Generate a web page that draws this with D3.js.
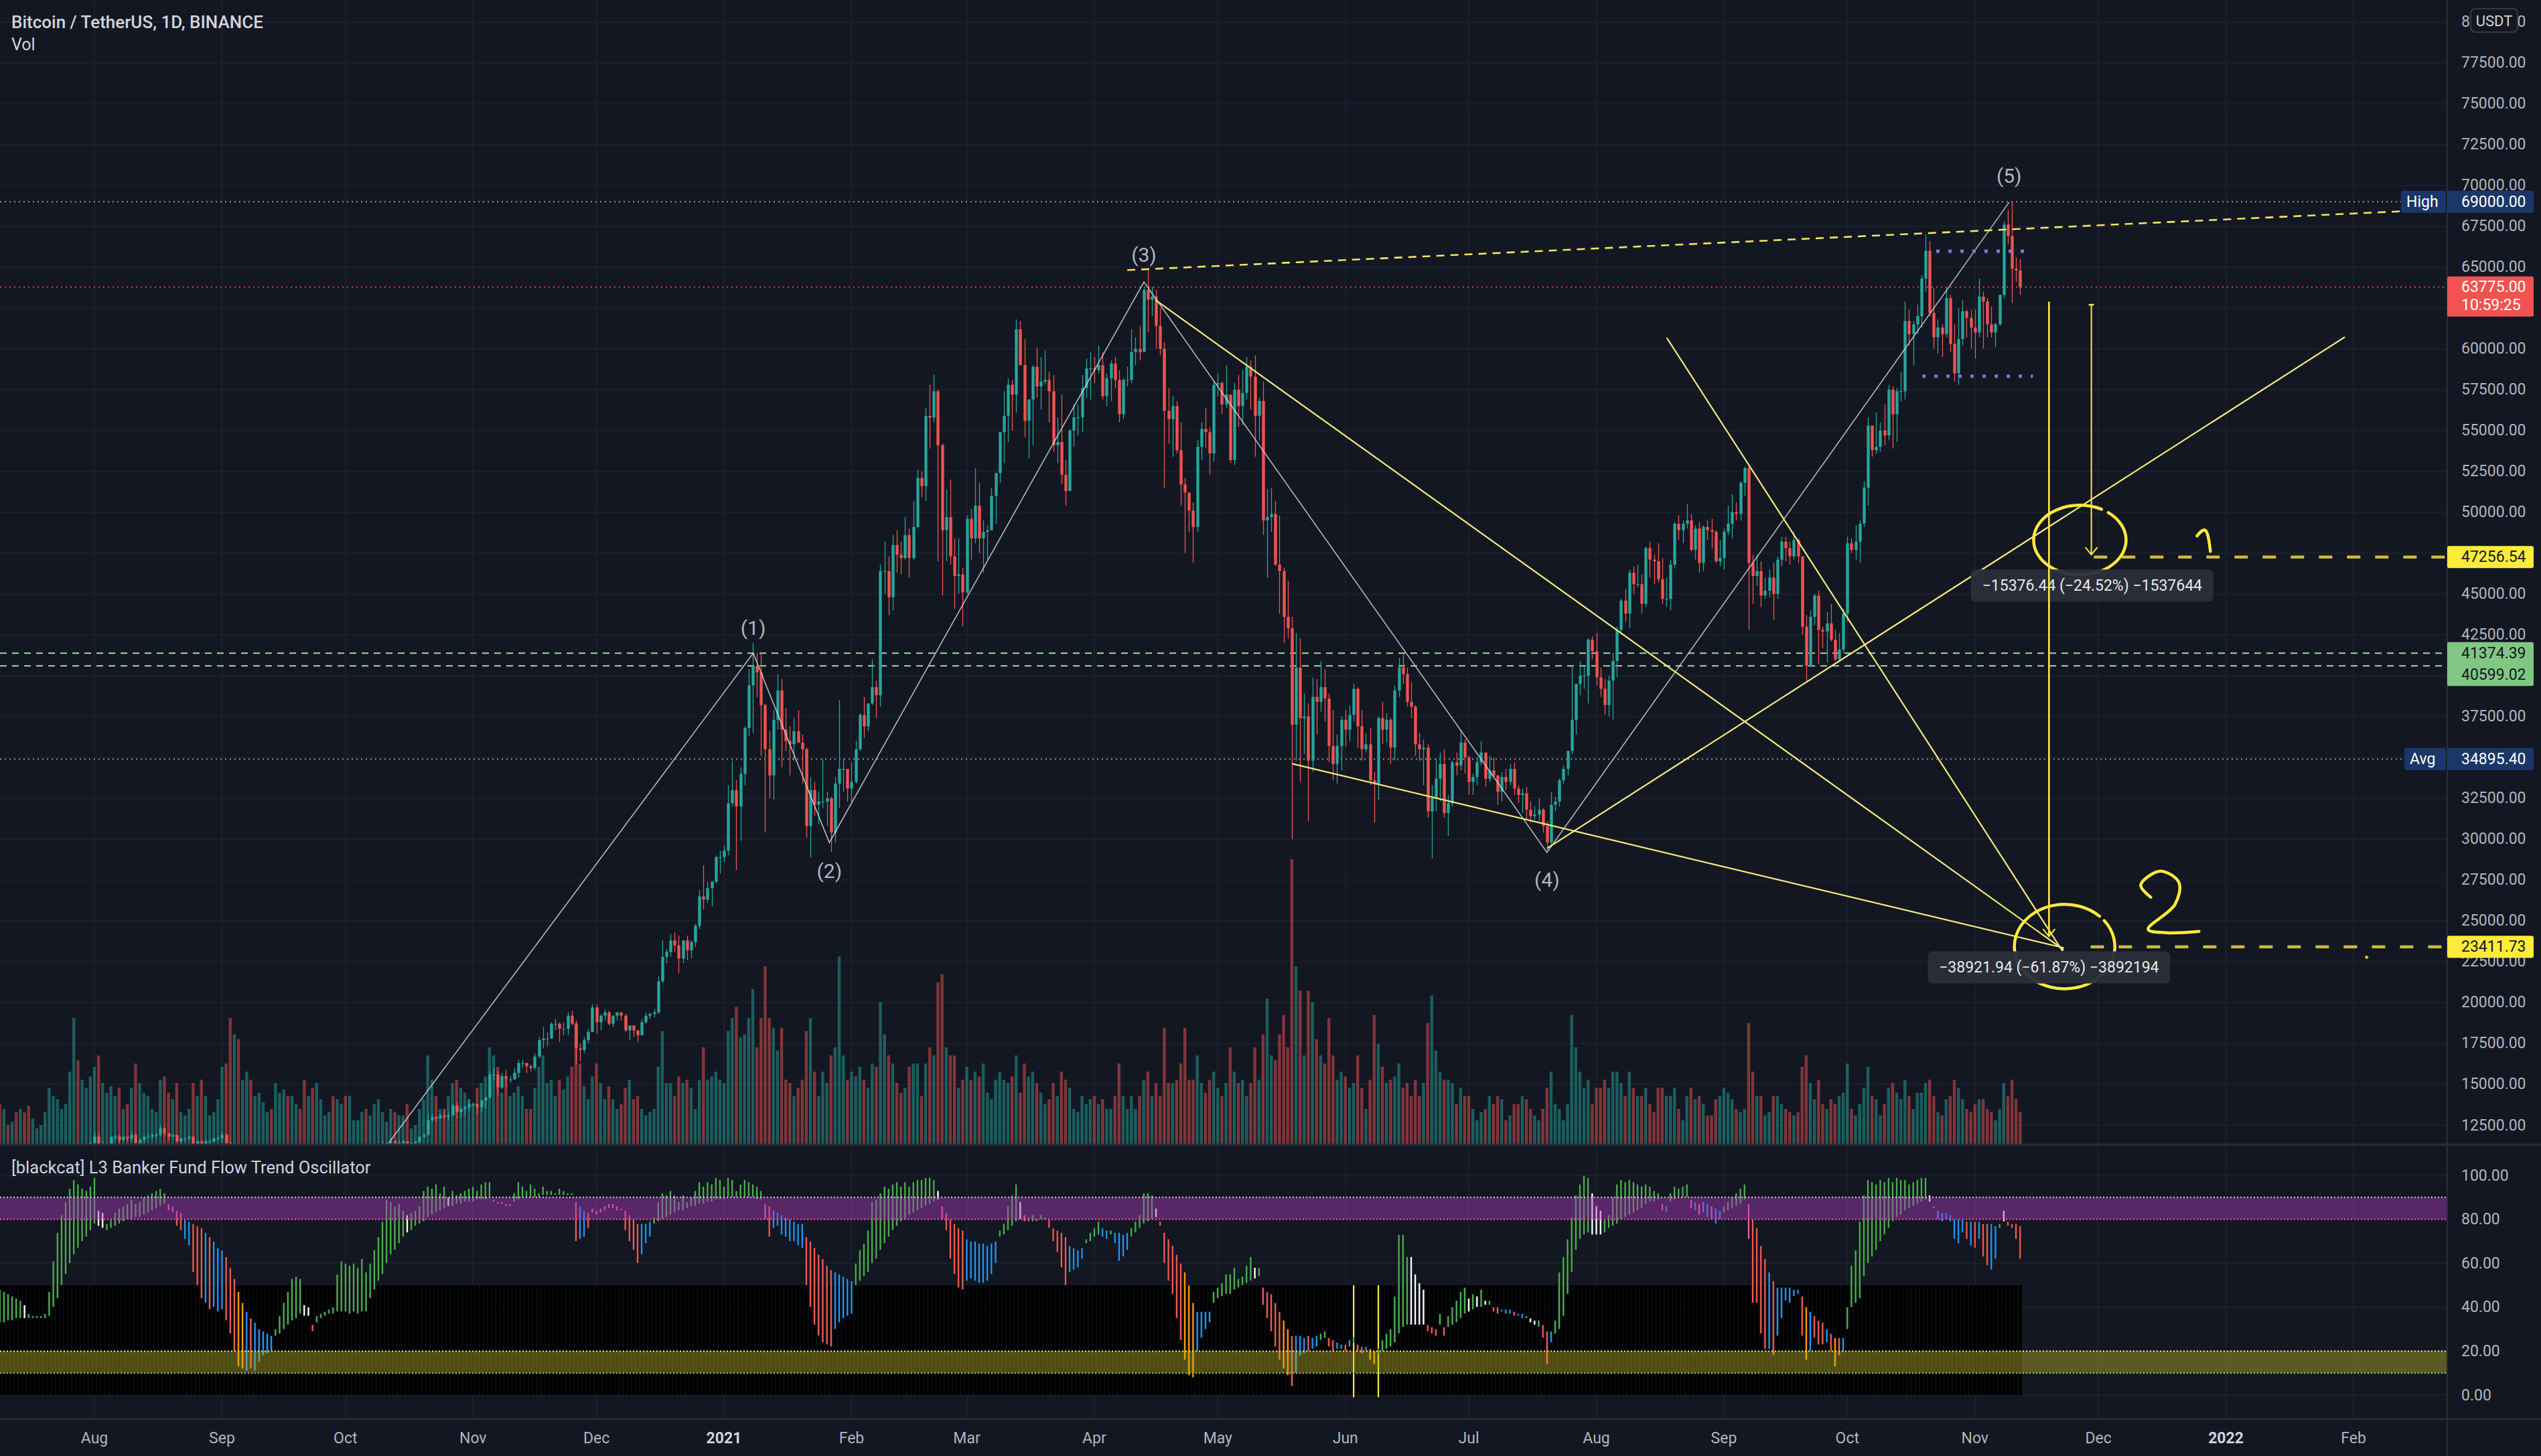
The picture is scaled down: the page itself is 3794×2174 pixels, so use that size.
<!DOCTYPE html>
<html><head><meta charset="utf-8">
<script src="https://d3js.org/d3.v7.min.js"></script>
<style>html,body{margin:0;padding:0;background:#131722;overflow:hidden}svg{display:block;font-family:Roboto,'Noto Sans',sans-serif}</style>
</head><body><svg id="c" width="3794" height="2174"></svg>
<script>
// ---------------- DATA (prices in hundreds of USDT) ----------------
const firstDay = "2020-07-09";
const prevClose = 94;
const closes = [
92,93,92,93,92,93,92,91,92,92,92,92,94,95,96,96,97,99,110,109,111,111,114,
118,111,112,112,118,118,116,118,117,119,114,116,118,118,119,119,123,120,118,119,115,117,117,118,113,115,113,115,115,117,117,
119,114,102,105,102,103,104,101,102,103,104,104,103,107,108,110,109,109,111,109,104,105,102,107,107,107,108,107,108,108,
106,106,106,107,108,106,107,109,111,113,114,115,114,114,115,113,114,115,118,119,128,130,129,131,130,131,137,133,135,136,138,
138,136,140,142,156,156,148,155,153,153,157,163,163,161,160,167,177,178,178,187,187,184,184,192,187,172,171,177,182,197,
188,192,194,187,192,194,192,183,186,183,180,188,192,193,194,213,228,231,238,235,227,238,232,237,247,265,263,270,274,289,289,
293,322,330,320,340,368,394,406,402,382,355,339,373,391,367,360,358,366,359,355,308,330,321,323,323,325,304,334,343,343,331,
335,355,376,369,383,393,388,464,464,448,480,474,472,486,472,491,521,516,559,558,574,541,489,497,473,461,462,451,
496,484,504,484,488,489,510,524,549,559,578,572,612,590,556,569,589,577,580,581,574,541,543,523,513,550,558,558,576,588,588,
587,590,571,582,591,581,560,581,581,598,600,598,636,630,632,614,600,562,557,565,538,517,512,501,491,540,551,549,536,578,
579,566,572,532,575,565,573,589,583,559,568,495,497,499,468,464,436,429,370,405,374,375,348,387,384,393,386,357,346,357,373,
367,376,392,369,355,358,336,334,374,367,373,356,391,405,401,384,381,358,355,356,317,325,337,346,316,322,347,345,359,350,
335,338,347,353,337,342,339,329,338,335,343,331,327,328,318,314,315,318,308,298,321,323,336,343,354,373,395,400,400,422,415,
399,392,382,397,409,428,446,438,463,456,456,444,478,471,470,459,447,447,468,493,489,493,495,477,490,469,491,489,488,470,472,
488,493,500,499,518,527,469,461,464,449,452,460,450,471,482,478,473,483,473,430,406,436,449,428,427,432,422,410,416,438,
481,477,482,493,515,553,538,540,550,547,575,560,574,574,617,609,615,620,643,660,622,607,613,609,631,603,585,606,623,619,613,
610,632,629,615,610,615,633,676,669,649,648,637.75];
const highs = [
95,93,93,93,94,93,93,92,92,92,92,92,94,95,97,97,97,101,114,113,113,112,115,
121,120,115,114,118,119,119,118,118,121,120,117,118,120,120,120,125,124,120,119,119,117,117,118,118,116,116,116,116,117,118,
121,120,115,106,106,104,104,105,104,105,104,105,106,108,109,111,110,110,112,111,110,106,105,108,108,108,108,110,109,109,
109,107,106,107,108,108,107,110,111,115,114,117,116,116,116,115,114,115,118,120,132,132,130,132,134,133,138,139,136,137,141,
139,138,141,142,158,160,158,157,159,155,160,165,165,163,162,169,179,185,182,188,190,188,188,194,195,189,175,179,184,199,
199,193,196,195,192,194,194,193,186,186,183,190,194,194,196,216,238,233,242,243,241,238,241,238,248,269,284,274,274,290,293,
296,333,348,336,344,369,404,420,414,414,383,366,379,401,398,380,369,374,379,364,356,338,335,329,349,329,326,338,385,349,343,
347,360,377,387,383,410,397,468,482,473,486,489,482,497,490,507,526,525,564,578,584,575,542,514,520,484,484,466,
498,502,527,518,495,492,515,524,549,574,582,581,618,617,606,569,590,601,595,599,586,584,558,572,532,551,566,566,584,594,598,
595,602,598,585,593,595,587,582,589,612,607,614,638,649,638,636,625,604,576,571,568,555,521,512,506,544,555,564,552,580,
585,580,590,572,579,584,587,595,593,596,570,580,514,515,507,498,466,458,436,426,423,389,383,399,398,409,404,389,379,364,375,
379,382,395,393,379,365,368,341,375,384,377,374,394,411,413,405,396,382,365,361,358,333,349,353,355,327,348,353,367,361,
351,340,350,360,353,351,350,339,341,343,346,347,333,331,332,323,320,325,319,311,329,326,337,345,354,406,395,409,406,423,424,
426,405,398,400,414,430,447,453,465,467,468,462,479,482,474,481,472,460,471,494,498,495,505,499,492,494,492,495,496,489,483,
490,504,511,506,519,528,529,474,474,470,460,465,469,473,485,485,482,488,484,473,437,440,450,452,430,439,444,428,426,441,
485,484,492,495,519,558,553,561,555,566,578,577,576,586,629,624,617,627,645,670,666,637,618,615,637,633,615,625,630,624,624,
624,643,635,631,626,616,633,678,685,690,656,655];
const lows = [
92,91,92,92,92,91,92,90,91,91,91,91,92,93,95,95,95,97,99,106,109,108,110,
112,107,110,110,111,116,113,115,115,115,111,112,114,117,117,117,118,118,116,117,115,114,115,116,111,113,112,113,114,115,116,
115,112,100,99,98,100,99,99,100,102,102,103,102,103,106,107,108,108,109,108,104,104,101,102,106,106,106,106,107,107,
104,104,105,105,106,105,106,105,108,111,113,112,112,113,113,112,113,113,114,117,119,127,127,129,129,128,131,129,130,131,134,
136,132,133,135,141,152,143,147,148,151,153,154,160,157,158,159,166,172,173,178,183,176,180,180,186,162,164,169,175,182,
181,183,189,186,185,189,189,182,177,179,176,180,187,190,191,193,212,224,228,231,218,224,226,227,234,245,257,261,259,273,279,
286,290,320,281,299,333,363,365,387,351,304,325,324,367,344,354,339,348,359,334,301,289,314,309,319,308,292,298,319,329,323,
323,334,354,362,366,382,374,381,450,437,440,463,462,471,460,471,490,509,507,539,555,470,449,470,468,441,450,430,
450,471,481,475,463,471,489,493,518,530,543,550,561,590,546,533,541,570,563,578,555,537,530,517,504,513,540,547,549,570,569,
579,585,569,565,568,576,555,557,577,579,590,593,598,610,620,600,596,515,542,534,536,504,475,488,469,488,532,539,523,531,
571,560,564,530,529,552,553,569,563,534,544,486,460,488,467,438,420,423,300,348,335,352,311,341,364,378,372,347,336,334,342,
357,360,372,356,348,353,333,310,324,358,359,346,348,387,395,381,374,351,348,333,313,288,317,323,313,302,320,339,342,340,
327,327,333,345,332,335,338,321,323,330,333,327,322,316,312,310,312,311,304,293,295,317,320,334,339,352,364,388,392,383,410,
394,387,376,375,373,399,425,433,429,450,454,438,442,460,456,457,444,442,440,466,483,481,490,476,471,463,464,483,478,469,467,
465,486,484,495,495,510,428,444,455,442,447,448,434,447,467,470,468,471,469,425,396,406,431,407,417,408,421,409,408,414,
433,475,471,469,491,504,534,536,537,541,544,539,543,568,569,602,590,609,613,635,620,600,597,595,607,598,580,578,602,607,600,
594,607,600,607,607,601,614,631,664,628,641,633];
const volumes = [
25,22,12,14,20,22,20,24,16,10,12,20,35,30,28,22,25,45,78,52,40,35,42,
48,55,38,32,36,30,35,22,25,35,50,38,32,30,22,20,40,42,32,28,38,20,18,22,38,30,40,30,18,20,28,
48,50,78,68,65,40,45,40,30,32,26,20,22,38,32,34,30,30,25,22,40,30,35,38,28,18,20,30,28,25,
30,30,15,15,20,22,18,25,28,20,14,22,20,18,18,25,10,12,22,28,55,40,30,22,22,30,38,40,35,32,28,
25,35,38,42,60,55,48,32,40,30,32,36,30,22,22,35,48,55,38,40,30,40,34,42,48,75,50,36,28,42,
50,38,28,36,28,22,25,35,40,28,30,22,18,20,22,48,70,38,38,30,42,38,40,35,22,40,60,40,42,45,40,
38,70,78,85,66,68,78,96,60,78,110,78,72,58,72,40,38,30,35,40,70,78,45,30,45,38,55,60,116,55,40,
45,42,48,40,35,50,48,88,68,55,50,38,32,35,48,50,50,30,50,60,55,100,105,60,55,55,35,40,
48,40,45,42,50,32,28,40,45,40,38,42,55,32,50,42,45,38,32,25,28,38,30,45,40,35,22,20,30,25,28,
30,25,28,22,22,30,50,30,22,30,22,30,40,45,30,38,30,72,38,38,40,50,72,40,40,55,38,32,40,45,
35,30,38,60,45,38,40,30,38,60,40,68,90,55,52,68,80,60,176,110,95,55,95,88,65,55,50,78,55,40,45,
42,35,38,55,35,22,40,80,62,48,38,40,42,50,35,38,30,40,30,38,75,92,58,45,40,40,38,25,35,30,
30,22,15,20,22,30,25,30,28,15,18,25,25,30,28,22,18,15,22,35,45,25,22,15,25,80,60,45,35,40,25,
35,35,40,35,45,45,38,30,45,35,30,30,35,25,20,35,35,30,30,35,22,15,30,35,28,30,25,18,18,28,30,
35,32,28,22,20,22,75,45,30,30,18,20,30,30,25,22,20,18,20,48,55,38,28,40,25,22,28,25,30,32,
50,22,18,25,35,48,30,28,18,25,35,38,32,28,40,30,22,32,32,38,40,30,20,18,28,30,40,35,28,22,20,
25,28,28,22,20,15,22,38,30,40,28,20];
const oscHigh = [
48,47,46,45,44,43,41,37,36,36, 36,37,47,61,74,82,88,94,98,96, 94,93,95,99,84,83,78,80,83,85, 86,87,89,87,88,90,91,92,93,94,
92,87,86,84,83,80,79,78,77,76, 74,72,70,67,66,63,58,53,47,42, 38,35,33,30,29,28,27,30,36,42, 47,53,54,53,41,40,32,36,37,38,
39,40,55,61,60,59,60,58,62,56, 60,66,72,79,89,88,86,87,84,82, 83,84,86,93,95,94,96,92,95,90, 93,91,92,93,94,95,93,96,97,97,
89,88,88,87,87,92,97,95,93,96, 94,92,95,93,93,92,94,93,92,92, 88,86,84,83,85,84,85,86,87,87, 86,85,84,82,80,78,78,78,79,81,
88,92,91,93,91,88,91,88,90,93, 97,95,97,96,99,98,95,99,98,93, 96,98,97,96,95,93,87,86,84,83, 82,81,80,79,78,78,72,70,67,64,
62,59,57,56,55,54,53,52,60,66, 69,75,88,89,92,95,94,96,97,95, 97,95,97,98,98,99,99,98,93,86, 83,80,78,76,75,71,70,70,69,69,
68,69,70,75,78,86,91,96,88,82, 81,82,80,82,81,80,76,75,74,72, 68,67,66,67,71,74,76,79,76,75, 75,74,74,73,74,76,79,82,92,92,
91,85,79,74,71,68,64,60,56,50, 42,38,38,38,38,47,49,51,55,55, 58,53,54,59,63,58,58,49,47,46, 42,38,34,30,27,27,27,26,27,26,
27,28,29,26,25,24,23,23,25,26, 23,22,22,21,20,21,25,28,30,45, 73,73,63,63,55,51,48,32,31,30, 37,31,36,40,43,47,49,44,46,45,
48,43,43,40,40,39,39,39,38,37, 37,36,35,34,34,32,29,29,34,56, 63,71,81,91,96,100,99,92,86,84, 80,82,90,96,98,97,98,97,96,95,
96,95,93,92,87,86,92,95,94,95, 96,89,88,87,88,87,86,85,84,86, 88,90,92,94,96,87,80,76,68,62, 56,52,49,49,49,49,48,48,45,40,
38,36,34,33,30,28,26,26,26,40, 59,66,79,91,98,97,96,98,97,99, 97,99,98,98,96,97,98,99,99,91, 86,84,83,83,82,80,80,80,79,79,
79,79,78,78,78,77,78,84,79,78, 78,77];
const oscLow = [
33,33,34,34,35,35,35,35,35,35, 35,35,36,40,44,50,55,60,64,67, 70,72,75,78,77,76,75,76,77,78, 79,80,80,81,81,82,83,84,85,86,
87,84,83,77,75,71,68,56,50,44, 42,39,40,38,39,34,28,20,13,12, 11,12,11,15,18,19,20,27,28,30, 32,34,35,37,36,36,29,33,35,36,
37,37,38,38,38,37,38,37,38,38, 44,48,52,55,60,64,66,69,72,74, 75,77,78,79,81,82,83,84,85,86, 86,87,87,88,88,88,89,89,89,90,
88,87,87,86,86,88,89,90,90,90, 90,90,91,91,91,91,91,91,91,91, 70,71,72,76,83,82,83,84,85,85, 84,84,75,70,66,60,64,69,72,78,
79,80,81,82,83,84,84,85,86,86, 87,87,88,88,89,89,89,90,90,90, 90,90,90,90,89,89,80,72,76,77, 73,72,70,70,68,67,50,40,32,27,
24,23,22,30,33,35,36,37,50,52, 54,56,60,62,66,69,72,75,77,79, 80,82,83,84,85,86,87,88,89,80, 75,62,55,49,48,52,53,52,51,51,
52,55,60,72,73,75,77,79,80,79, 79,79,79,80,80,76,70,65,58,50, 56,57,58,62,69,70,72,73,72,71, 73,69,61,63,66,72,74,76,78,79,
80,81,77,60,52,46,35,25,16,9, 8,20,26,30,33,42,44,45,46,46, 48,49,50,51,52,53,54,41,35,29, 22,16,12,9,4,10,18,19,20,21,
22,25,26,22,20,21,21,20,22,24, 20,19,20,16,14,19,20,21,22,24, 28,31,32,32,32,32,32,29,28,27, 32,27,31,32,33,35,37,38,39,40,
40,41,41,38,37,38,37,37,36,36, 35,35,33,32,31,26,14,24,28,30, 36,46,56,66,71,73,74,73,73,73, 74,76,77,78,80,81,82,83,84,85,
87,88,88,89,84,83,88,89,90,90, 90,85,84,82,83,81,80,78,80,83, 84,85,86,87,89,71,42,42,28,21, 21,18,27,35,43,42,45,46,27,16,
20,26,23,23,24,20,13,18,20,30, 40,42,44,54,60,63,66,70,73,76, 79,81,82,84,85,86,87,88,89,88, 85,80,79,80,79,71,69,74,71,68,
67,71,63,59,57,62,76,79,77,76, 71,62];
const oscColors =
"ggggggwggg"+"gggggggggg"+"ggggwwgggg"+"gggggggggg"+"gpprrbbrrr"+"brbbbrrroo"+"brbbbbbggg"+"ggggwwrggg"+
"gggggggggg"+"gggggggggw"+"gggggggggw"+"gggggggggg"+"pppppggggg"+"gggggggggg"+"rbbrpppppp"+"pprrrrbbbg"+
"gggggggggg"+"gggggggggg"+"ggggggprbb"+"bbbbbbrrrr"+"rrrbbbbbgg"+"gggggggggg"+"ggggggggwp"+"rrrrrbbbbb"+
"bbbgggggwp"+"pggggrrrrr"+"bbbbggggbb"+"gbbbbggggg"+"gwrrrrrroo"+"obbbbggggg"+"gggggwgrrr"+"rroorbbbrb"+
"bggrrbbrbg"+"rrbooggggg"+"gggwwwwrrr"+"grgggggwgw"+"gwgrrbbbrb"+"bgwwgrrbgg"+"gggggggwww"+"gggggggggg"+
"ggggpbgggg"+"gpbpbbpbbg"+"gggggprrrr"+"brbbbbbbro"+"brrrbrorbg"+"gggggggggg"+"gggggggggw"+"pbbbbbbbrb"+
"rbrrbbgwrr"+"rr";
const signalDays = ["2021-06-03","2021-06-09"];
const priceTicks = d3.range(12500, 80001, 2500);
const oscTicks = [0,20,40,60,80,100];
const oscBands = [[80,90],[10,20]];
const oscMid = 50;
// Elliott wave pivots: [day index from first bar, price]
const wavePts = [[94.5,11400],[183.1,41380],[201.6,29790],[278.05,64090],[376.0,29190],[488.3,68960]];
const waveLabels = ["(1)","(2)","(3)","(4)","(5)"];
const trendLines = [
  [[280.9,62977],[501.6,23225]],
  [[314.1,34611],[501.6,23348]],
  [[405.1,60680],[501.3,23143]],
  [[376.1,29450],[569.9,60720]]
];
const topDashed = [[274.0,64815],[600,68603]];
const arrowLong = [[498.0,62880],[498.0,24050]];
const arrowShort = [[508.3,62695],[508.3,47410]];
const targets = [{day:508.9, price:47256.54}, {day:508.1, price:23411.73}];
const rangeDots = [{from:470.6,to:492.3,price:65973},{from:467.2,to:494.1,price:58322}];
const measureBoxes = [
  {day:508.5, price:45520, text:"\u221215376.44 (\u221224.52%) \u22121537644"},
  {day:498.0, price:22150, text:"\u221238921.94 (\u221261.87%) \u22123892194"}];
const circles = [{day:505.5, price:48300}, {day:501.8, price:23426}];
const handDigits = [{day:535.6, price:48430, d:"1"}, {day:527.3, price:26200, d:"2"}];
const zoneLines = [41374.39, 40599.02];
const avgPrice = 34895.40, highPrice = 69000, lastPrice = 63775, countdown = "10:59:25";

// ---------------- LAYOUT ----------------
const W = 3794, H = 2174, PR = 3654, PB = 1709, OB = 2119;
const BG = "#131722", GRID = "#1f2330", SEP = "#2a2e39", TXT = "#b2b5be";
const t0 = new Date(firstDay + "T00:00:00Z");
const dayMs = 864e5;
const x = d3.scaleUtc().domain([new Date(Date.UTC(2020,7,1)), new Date(Date.UTC(2022,1,1))]).range([141,3514]);
const y = d3.scaleLinear().domain([12500,77500]).range([1680,93.75]);
const yo = d3.scaleLinear().domain([0,100]).range([2083,1755]);
const yv = d3.scaleLinear().domain([0,176]).range([PB,1283]);
const xi = i => x(new Date(t0.getTime() + i*dayMs));
const P = ([i,p]) => [xi(i), y(p)];

const svg = d3.select("#c");
svg.append("rect").attr("width",W).attr("height",H).attr("fill",BG);
const defs = svg.append("defs");
defs.append("clipPath").attr("id","cp").append("rect").attr("x",0).attr("y",0).attr("width",PR).attr("height",PB);
defs.append("clipPath").attr("id","co").append("rect").attr("x",0).attr("y",PB).attr("width",PR).attr("height",OB-PB);

// grid
const months = d3.utcMonth.range(new Date(Date.UTC(2020,7,1)), new Date(Date.UTC(2022,2,1))).filter(d=>x(d)<PR);
const grid = svg.append("g").attr("stroke",GRID).attr("stroke-width",1.5);
grid.selectAll(".v").data(months).join("line").attr("x1",d=>Math.round(x(d))).attr("x2",d=>Math.round(x(d))).attr("y1",0).attr("y2",OB);
grid.selectAll(".h").data(priceTicks.filter(v=>y(v)>0&&y(v)<PB)).join("line").attr("x1",0).attr("x2",PR).attr("y1",d=>Math.round(y(d))).attr("y2",d=>Math.round(y(d)));
grid.selectAll(".o").data(oscTicks).join("line").attr("x1",0).attr("x2",PR).attr("y1",d=>Math.round(yo(d))).attr("y2",d=>Math.round(yo(d)));

// bars
const bars = closes.map((c,i)=>{
  const o = (i ? closes[i-1] : prevClose)*100, cc = c*100;
  return {i, o, c:cc, h:Math.max(highs[i]*100,o,cc), l:Math.min(lows[i]*100,o,cc), v:volumes[i]};
});
const UP="#26a69a", DN="#ef5350";
const pg = svg.append("g").attr("clip-path","url(#cp)");
const bw = 4.4;
pg.append("g").selectAll("rect").data(bars).join("rect")
  .attr("x",d=>xi(d.i)-bw/2).attr("width",bw).attr("y",d=>yv(d.v)).attr("height",d=>PB-yv(d.v))
  .attr("fill",d=>d.c>=d.o?UP:DN).attr("opacity",0.5);

// horizontal reference lines
pg.append("g").selectAll("line").data(zoneLines).join("line").attr("x1",0).attr("x2",PR)
  .attr("y1",d=>y(d)).attr("y2",d=>y(d)).attr("stroke","#a5d6a7").attr("stroke-width",2).attr("stroke-dasharray","10,8");
[[avgPrice,"#8f939c"],[highPrice,"#9598a1"]].forEach(([v,c])=>{
  pg.append("line").attr("x1",0).attr("x2",PR).attr("y1",y(v)).attr("y2",y(v)).attr("stroke",c).attr("stroke-width",2).attr("stroke-dasharray","2,5");
});
pg.append("line").attr("x1",0).attr("x2",PR).attr("y1",y(lastPrice)).attr("y2",y(lastPrice)).attr("stroke","#f23645").attr("stroke-width",2).attr("stroke-dasharray","2,5");

// candles
const cg = pg.append("g");
cg.selectAll("line").data(bars).join("line")
  .attr("x1",d=>Math.round(xi(d.i))+0.5).attr("x2",d=>Math.round(xi(d.i))+0.5)
  .attr("y1",d=>y(d.h)).attr("y2",d=>y(d.l)).attr("stroke",d=>d.c>=d.o?UP:DN).attr("stroke-width",1.3);
cg.selectAll("rect").data(bars).join("rect")
  .attr("x",d=>Math.round(xi(d.i))+0.5-bw/2).attr("width",bw)
  .attr("y",d=>y(Math.max(d.o,d.c))).attr("height",d=>Math.max(1.2,Math.abs(y(d.o)-y(d.c))))
  .attr("fill",d=>d.c>=d.o?UP:DN);

// drawings
const ag = pg.append("g").attr("fill","none");
const line = d3.line();
ag.append("path").attr("d",line(wavePts.map(P))).attr("stroke","#d1d4dc").attr("stroke-width",1.6).attr("opacity",0.85);
trendLines.forEach(s=>ag.append("path").attr("d",line(s.map(P))).attr("stroke","#f7e97a").attr("stroke-width",2.2));
ag.append("path").attr("d",line(topDashed.map(P))).attr("stroke","#f5e35c").attr("stroke-width",2.6).attr("stroke-dasharray","12,9");
rangeDots.forEach(r=>ag.append("line").attr("x1",xi(r.from)).attr("x2",xi(r.to)).attr("y1",y(r.price)).attr("y2",y(r.price))
  .attr("stroke","#8d6fd1").attr("stroke-width",5).attr("stroke-dasharray","5,13"));
targets.forEach(t=>ag.append("line").attr("x1",xi(t.day)).attr("x2",PR).attr("y1",y(t.price)).attr("y2",y(t.price))
  .attr("stroke","#cbbc35").attr("stroke-width",4.5).attr("stroke-dasharray","20,22"));
// circles (hand drawn)
const circ = [{rx:69,ry:52,g0:-52,g1:-62},{rx:75,ry:63,g0:-38,g1:-46}];
circles.forEach((c,k)=>{
  const [cx,cy]=P([c.day,c.price]); const s=circ[k];
  const a0=s.g0*Math.PI/180, a1=(360+s.g1)*Math.PI/180;
  const p0=[cx+s.rx*Math.cos(a0), cy+s.ry*Math.sin(a0)], p1=[cx+s.rx*Math.cos(a1), cy+s.ry*Math.sin(a1)];
  ag.append("path").attr("d",`M${p0}A${s.rx},${s.ry} 0 1 1 ${p1}`).attr("stroke","#ffeb3b").attr("stroke-width",4.5).attr("stroke-linecap","round");
});
const digitShapes = {"1":[[-10,-3],[5,-20],[10,20]], "2":[[-28,-6],[-43,-24],[-14,-45],[14,-28],[8,5],[-32,42],[-5,47],[44,45]]};
handDigits.forEach(h=>{
  const [ax,ay]=P([h.day,h.price]);
  const pts = digitShapes[h.d].map(([dx,dy])=>[ax+dx,ay+dy]);
  ag.append("path").attr("d",d3.line().curve(h.d==="2"?d3.curveCatmullRom:d3.curveBasis)(pts)).attr("stroke","#ffeb3b").attr("stroke-width",4.5).attr("stroke-linecap","round").attr("stroke-linejoin","round");
});
ag.append("circle").attr("cx",xi(575.2)).attr("cy",y(22775)).attr("r",2.5).attr("fill","#cbbc35");
// measure boxes
measureBoxes.forEach(b=>{
  const [cx,cy]=P([b.day,b.price]);
  ag.append("rect").attr("x",cx-181).attr("y",cy-24).attr("width",362).attr("height",48).attr("rx",7).attr("fill","#2a2e39").attr("opacity",0.95);
  ag.append("text").attr("x",cx).attr("y",cy).attr("text-anchor","middle").attr("dominant-baseline","central")
    .attr("fill","#e6e8ee").attr("font-size",23).text(b.text);
});
// arrows
[arrowLong, arrowShort].forEach((a,k)=>{
  const [p0,p1]=a.map(P);
  ag.append("line").attr("x1",p0[0]).attr("x2",p1[0]).attr("y1",p0[1]).attr("y2",p1[1]).attr("stroke","#ffeb3b").attr("stroke-width",k?2:2.6);
  ag.append("path").attr("d",`M${p1[0]-9},${p1[1]-11}L${p1[0]},${p1[1]}L${p1[0]+9},${p1[1]-11}`).attr("stroke","#ffeb3b").attr("stroke-width",2);
  if(k) ag.append("line").attr("x1",p0[0]-4).attr("x2",p0[0]+4).attr("y1",p0[1]).attr("y2",p0[1]).attr("stroke","#ffeb3b").attr("stroke-width",2.5);
});
// wave labels
const labOff = [-38,42,-41,41,-40];
waveLabels.forEach((t,k)=>{
  const [px,py]=P(wavePts[k+1]);
  pg.append("text").attr("x",px).attr("y",py+labOff[k]).attr("text-anchor","middle").attr("dominant-baseline","central")
    .attr("fill","#b2b5be").attr("font-size",30).text(t);
});

// ---------------- OSCILLATOR ----------------
const og = svg.append("g").attr("clip-path","url(#co)");
og.append("g").selectAll("rect").data(oscHigh).join("rect")
  .attr("x",(d,i)=>xi(i)-2.6).attr("width",5.2).attr("y",yo(oscMid)).attr("height",yo(0)-yo(oscMid)).attr("fill","#000");
const sigIdx = signalDays.map(s=>Math.round((new Date(s+"T00:00:00Z")-t0)/dayMs));
og.append("g").selectAll("rect").data(sigIdx).join("rect")
  .attr("x",i=>xi(i)-1).attr("width",2.2).attr("y",yo(oscMid)).attr("height",yo(-1)-yo(oscMid)).attr("fill","#ffeb3b");
const OC = {g:"#4caf50", r:"#f05a50", b:"#2196f3", w:"#ffffff", o:"#ff9800", p:"#f06292"};
og.append("g").selectAll("rect").data(oscHigh).join("rect")
  .attr("x",(d,i)=>xi(i)-1.5).attr("width",3)
  .attr("y",(d,i)=>yo(Math.max(d,oscLow[i]))).attr("height",(d,i)=>Math.max(2,Math.abs(yo(oscLow[i])-yo(d))))
  .attr("fill",(d,i)=>OC[oscColors[i]]||OC.g).attr("stroke","#0b0d12").attr("stroke-width",0.6);
const bandFill = ["rgba(170,60,190,0.45)","rgba(190,180,40,0.42)"];
const bandEdge = [["#e1bee7","#ff4fa3"],["#fff176","#9ccc65"]];
oscBands.forEach(([lo,hi],k)=>{
  og.append("rect").attr("x",0).attr("width",PR).attr("y",yo(hi)).attr("height",yo(lo)-yo(hi)).attr("fill",bandFill[k]);
  og.append("line").attr("x1",0).attr("x2",PR).attr("y1",yo(hi)).attr("y2",yo(hi)).attr("stroke",bandEdge[k][0]).attr("stroke-width",2).attr("stroke-dasharray","2,3");
  og.append("line").attr("x1",0).attr("x2",PR).attr("y1",yo(lo)).attr("y2",yo(lo)).attr("stroke",bandEdge[k][1]).attr("stroke-width",2).attr("stroke-dasharray","2,3");
});

// separators
svg.append("line").attr("x1",0).attr("x2",W).attr("y1",PB).attr("y2",PB).attr("stroke",SEP).attr("stroke-width",3);
svg.append("line").attr("x1",0).attr("x2",W).attr("y1",OB).attr("y2",OB).attr("stroke",SEP).attr("stroke-width",3);
svg.append("line").attr("x1",PR).attr("x2",PR).attr("y1",0).attr("y2",H).attr("stroke",SEP).attr("stroke-width",2);

// ---------------- RIGHT AXIS ----------------
const ax = svg.append("g").attr("font-size",23).attr("fill",TXT);
const f2 = d3.format(".2f");
const ROW = 32.5; // minimum spacing of stacked axis labels
// label rows for a group of values: start at the first value, push the next ones down by ROW
const rows = vals => vals.map((v,k)=> y(vals[0]) + k*ROW);
const boxSpans = [[highPrice],[avgPrice],[targets[0].price],[targets[1].price],zoneLines].map(v=>{
  const r=rows(v); return [r[0]-16.5, r[r.length-1]+16.5];
});
boxSpans.push([y(lastPrice)-16, y(lastPrice)+44]);
const hidden = v => boxSpans.some(([a,b]) => y(v) >= a-2 && y(v) <= b+2);
ax.selectAll(".pt").data(priceTicks.filter(v=>y(v)>10&&y(v)<PB-12&&!hidden(v))).join("text")
  .attr("x",3675).attr("y",d=>y(d)).attr("dominant-baseline","central").text(d=>f2(d));
ax.selectAll(".ot").data(oscTicks).join("text")
  .attr("x",3675).attr("y",d=>yo(d)).attr("dominant-baseline","central").text(d=>f2(d));
// USDT badge
svg.append("rect").attr("x",3689).attr("y",13).attr("width",70).attr("height",35).attr("rx",7).attr("fill",BG).attr("stroke","#434651").attr("stroke-width",1.5);
svg.append("text").attr("x",3724).attr("y",31).attr("text-anchor","middle").attr("dominant-baseline","central").attr("fill","#d1d4dc").attr("font-size",22).text("USDT");
function axisBox(vals, fill, fg, tag){
  const r = rows(vals); const top = r[0]-16.5, bot = r[r.length-1]+16.5;
  svg.append("rect").attr("x",PR).attr("y",top).attr("width",129).attr("height",bot-top).attr("rx",3).attr("fill",fill);
  vals.forEach((v,k)=>svg.append("text").attr("x",3675).attr("y",r[k]).attr("dominant-baseline","central").attr("fill",fg).attr("font-size",23).text(f2(v)));
  if(tag){
    const tw = tag==="High"?67:62;
    svg.append("rect").attr("x",PR-tw-2).attr("y",top).attr("width",tw).attr("height",bot-top).attr("rx",3).attr("fill",fill);
    svg.append("text").attr("x",PR-tw+6).attr("y",r[0]).attr("dominant-baseline","central").attr("fill",fg).attr("font-size",23).text(tag);
  }
}
axisBox([highPrice],"#1b3668","#ffffff","High");
axisBox([avgPrice],"#1b3668","#ffffff","Avg");
axisBox([targets[0].price],"#ffeb3b","#131722");
axisBox([targets[1].price],"#ffeb3b","#131722");
axisBox(zoneLines,"#81c784","#131722");
// last price box
svg.append("rect").attr("x",PR).attr("y",y(lastPrice)-16).attr("width",129).attr("height",60).attr("rx",3).attr("fill","#f05350");
svg.append("text").attr("x",3675).attr("y",y(lastPrice)).attr("dominant-baseline","central").attr("fill","#fff").attr("font-size",23).text(f2(lastPrice));
svg.append("text").attr("x",3675).attr("y",y(lastPrice)+27).attr("dominant-baseline","central").attr("fill","#fff").attr("font-size",23).text(countdown);

// ---------------- TIME AXIS ----------------
const tf = d => d.getUTCMonth()===0 ? String(d.getUTCFullYear()) : d3.utcFormat("%b")(d);
svg.append("g").selectAll("text").data(months).join("text")
  .attr("x",d=>x(d)).attr("y",2147).attr("text-anchor","middle").attr("dominant-baseline","central")
  .attr("font-size",23).attr("font-weight",d=>d.getUTCMonth()===0?700:400)
  .attr("fill",d=>d.getUTCMonth()===0?"#d1d4dc":TXT).text(tf);

// ---------------- TITLES ----------------
svg.append("text").attr("x",17).attr("y",33).attr("dominant-baseline","central").attr("fill","#d1d4dc").attr("font-size",26).attr("font-weight",500).text("Bitcoin / TetherUS, 1D, BINANCE");
svg.append("text").attr("x",17).attr("y",66).attr("dominant-baseline","central").attr("fill","#d1d4dc").attr("font-size",25).text("Vol");
svg.append("text").attr("x",17).attr("y",1743).attr("dominant-baseline","central").attr("fill","#d1d4dc").attr("font-size",25.5).text("[blackcat] L3 Banker Fund Flow Trend Oscillator");
</script></body></html>
